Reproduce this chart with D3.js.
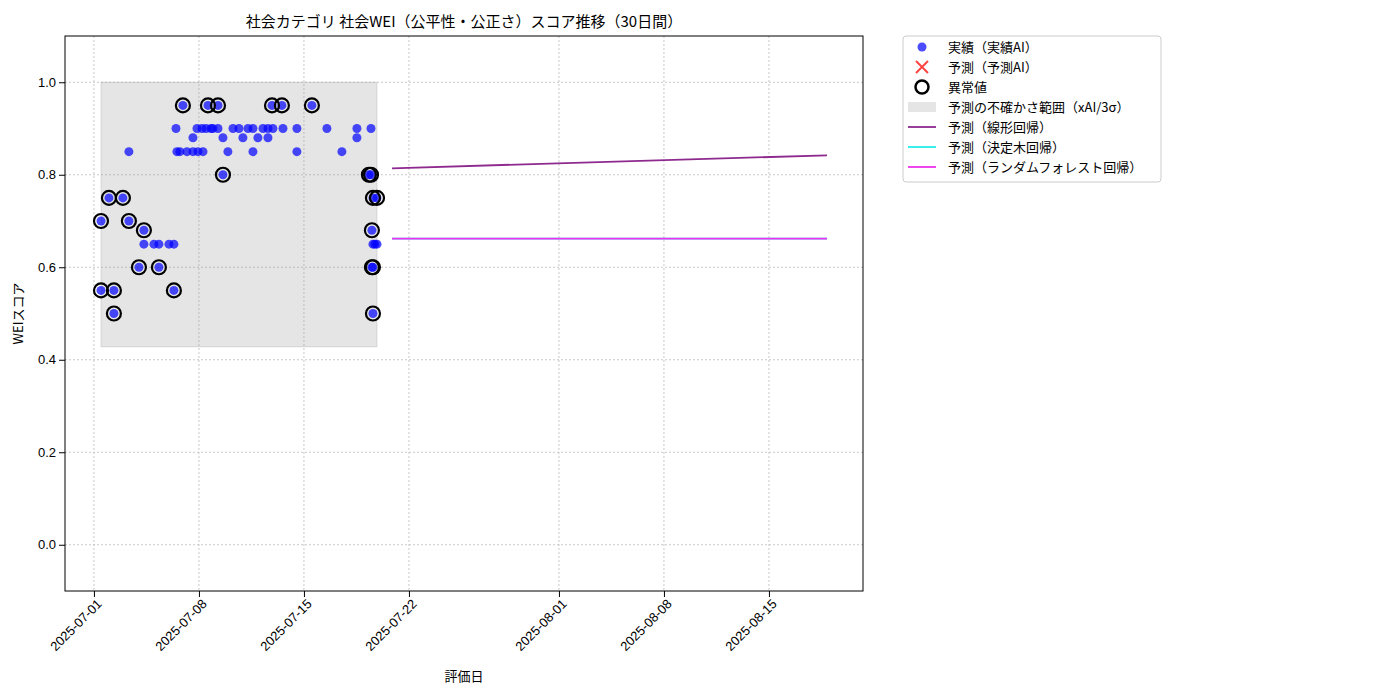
<!DOCTYPE html>
<html><head><meta charset="utf-8">
<script src="https://cdn.jsdelivr.net/npm/d3@7"></script>
<style>body{margin:0;background:#fff;font-family:"Noto Sans CJK JP","DejaVu Sans",sans-serif;}</style>
</head><body><div id="chart"></div>
<script>
// days after 2025-07-01
var normalDays = [5.47,6.87,7.2,7.47,7.8,7.93,8.27,9.27,9.67,10.27,10.6,11.27,11.6,11.93,12.6,13.53,15.53,17.53,18.47,
  6.6,8.6,9.93,10.93,11.6,17.53,
  2.33,5.53,5.73,6.2,6.6,6.93,7.27,8.93,10.6,13.53,16.53,
  3.33,4.0,4.33,5.0,5.33,18.6,18.87,18.73];
var normalVals = [0.9,0.9,0.9,0.9,0.9,0.9,0.9,0.9,0.9,0.9,0.9,0.9,0.9,0.9,0.9,0.9,0.9,0.9,0.9,
  0.88,0.88,0.88,0.88,0.88,0.88,
  0.85,0.85,0.85,0.85,0.85,0.85,0.85,0.85,0.85,0.85,0.85,
  0.65,0.65,0.65,0.65,0.65,0.65,0.65,0.65];
var anomDays = [5.93,7.6,8.27,11.87,12.53,14.53,8.6,18.47,18.33,1.0,1.93,18.6,18.87,0.47,2.33,3.33,18.53,3.0,4.33,18.6,18.53,0.47,1.33,5.33,1.33,18.6];
var anomVals = [0.95,0.95,0.95,0.95,0.95,0.95,0.8,0.8,0.8,0.75,0.75,0.75,0.75,0.7,0.7,0.68,0.68,0.6,0.6,0.6,0.6,0.55,0.55,0.55,0.5,0.5];
var bandDays = [0.47,18.87], bandLow = 0.428, bandHigh = 1.0;
var fcDays = [19.87,48.87];
var fcLinear = [0.814,0.842];
var fcTree = [0.662,0.662];
var fcForest = [0.662,0.662];
var tickDates = ["2025-07-01","2025-07-08","2025-07-15","2025-07-22","2025-08-01","2025-08-08","2025-08-15"];
var yTicks = [0.0,0.2,0.4,0.6,0.8,1.0];

var W = 1400, H = 700, L = 65, R = 863, T = 36, B = 591;
var t0 = new Date(2025,6,1);
function dd(d){ return new Date(t0.getTime() + d*86400000); }

var svg = d3.select('#chart').append('svg').attr('width', W).attr('height', H)
  .style('font-family','"Noto Sans CJK JP","DejaVu Sans",sans-serif');

var x = d3.scaleTime().domain([dd(-1.93), dd(51.27)]).range([L, R]);
var y = d3.scaleLinear().domain([-0.1, 1.1]).range([B, T]);
var tvals = tickDates.map(function(s){ var p=s.split('-'); return new Date(+p[0],+p[1]-1,+p[2]); });

// grid
svg.append('g').selectAll('line').data(tvals).enter().append('line')
  .attr('x1', x).attr('x2', x).attr('y1', T).attr('y2', B)
  .attr('stroke','#bbb').attr('stroke-dasharray','2,2').attr('stroke-width',0.8);
svg.append('g').selectAll('line').data(yTicks).enter().append('line')
  .attr('x1', L).attr('x2', R).attr('y1', y).attr('y2', y)
  .attr('stroke','#bbb').attr('stroke-dasharray','2,2').attr('stroke-width',0.8);

// band
svg.append('rect').attr('x', x(dd(bandDays[0]))).attr('y', y(bandHigh))
  .attr('width', x(dd(bandDays[1])) - x(dd(bandDays[0]))).attr('height', y(bandLow) - y(bandHigh))
  .attr('fill','#999').attr('fill-opacity',0.25).attr('stroke','#999').attr('stroke-opacity',0.3);

// forecasts
function fline(vals, col){
  svg.append('path').datum(fcDays.map(function(d,i){ return [d, vals[i]]; }))
    .attr('d', d3.line().x(function(p){ return x(dd(p[0])); }).y(function(p){ return y(p[1]); }))
    .attr('stroke', col).attr('stroke-width',1.8).attr('fill','none');
}
fline(fcLinear, '#8e2a8e'); fline(fcTree, '#22eeee'); fline(fcForest, '#ee33ee');

// points
var pts = normalDays.map(function(d,i){ return [d, normalVals[i]]; })
  .concat(anomDays.map(function(d,i){ return [d, anomVals[i]]; }));
svg.append('g').selectAll('circle').data(pts).enter().append('circle')
  .attr('cx', function(p){ return x(dd(p[0])); }).attr('cy', function(p){ return y(p[1]); })
  .attr('r', 4.5).attr('fill','#0000ff').attr('fill-opacity',0.7);
svg.append('g').selectAll('circle').data(anomDays).enter().append('circle')
  .attr('cx', function(d){ return x(dd(d)); }).attr('cy', function(d,i){ return y(anomVals[i]); })
  .attr('r', 7).attr('fill','none').attr('stroke','#000').attr('stroke-width',2.2);

// axes
svg.append('rect').attr('x',L).attr('y',T).attr('width',R-L).attr('height',B-T).attr('fill','none').attr('stroke','#000');
var xa = svg.append('g').attr('transform','translate(0,'+B+')')
  .call(d3.axisBottom(x).tickValues(tvals).tickFormat(d3.timeFormat('%Y-%m-%d')).tickSizeOuter(0));
xa.select('.domain').remove();
xa.selectAll('text').attr('transform','rotate(-45)').attr('text-anchor','end')
  .attr('dx','-0.3em').attr('dy','0.5em').style('font-size','13px').style('font-family','inherit');
var ya = svg.append('g').attr('transform','translate('+L+',0)')
  .call(d3.axisLeft(y).tickValues(yTicks).tickFormat(d3.format('.1f')).tickSizeOuter(0));
ya.select('.domain').remove();
ya.selectAll('text').style('font-size','13px').style('font-family','inherit');

svg.append('text').attr('x',(L+R)/2).attr('y',27).attr('text-anchor','middle').style('font-size','15px')
  .text('社会カテゴリ 社会WEI（公平性・公正さ）スコア推移（30日間）');
svg.append('text').attr('x',(L+R)/2).attr('y',681).attr('text-anchor','middle').style('font-size','13px').text('評価日');
svg.append('text').attr('transform','translate(23,'+((T+B)/2)+') rotate(-90)').attr('text-anchor','middle').style('font-size','13px').text('WEIスコア');

// legend
var lg = svg.append('g').attr('transform','translate(903,36)');
lg.append('rect').attr('width',258).attr('height',146).attr('rx',3).attr('fill','#fff').attr('stroke','#ccc');
var items = ['実績（実績AI）','予測（予測AI）','異常値','予測の不確かさ範囲（xAI/3σ）','予測（線形回帰）','予測（決定木回帰）','予測（ランダムフォレスト回帰）'];
items.forEach(function(s,i){
  var cy = 11 + i*20;
  lg.append('text').attr('x',45).attr('y',cy+5).style('font-size','13px').text(s);
  var ix = 19;
  if(i==0) lg.append('circle').attr('cx',ix).attr('cy',cy).attr('r',4.5).attr('fill','#0000ff').attr('fill-opacity',0.7);
  if(i==1){ lg.append('path').attr('d','M'+(ix-6)+','+(cy-6)+'L'+(ix+6)+','+(cy+6)+'M'+(ix+6)+','+(cy-6)+'L'+(ix-6)+','+(cy+6)).attr('stroke','#ff4444').attr('stroke-width',2); }
  if(i==2) lg.append('circle').attr('cx',ix).attr('cy',cy).attr('r',6.5).attr('fill','none').attr('stroke','#000').attr('stroke-width',2.5);
  if(i==3) lg.append('rect').attr('x',5).attr('y',cy-5).attr('width',28).attr('height',10).attr('fill','#999').attr('fill-opacity',0.25);
  var cols = {4:'#8e2a8e',5:'#22eeee',6:'#ee33ee'};
  if(cols[i]) lg.append('line').attr('x1',5).attr('x2',33).attr('y1',cy).attr('y2',cy).attr('stroke',cols[i]).attr('stroke-width',1.8);
});
</script></body></html>
